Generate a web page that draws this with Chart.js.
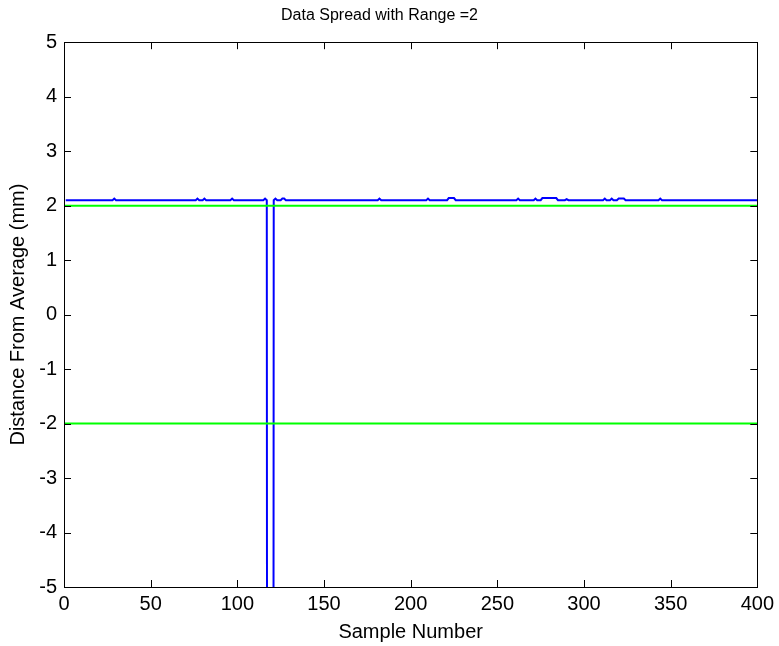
<!DOCTYPE html>
<html>
<head>
<meta charset="utf-8">
<script src="https://cdn.jsdelivr.net/npm/chart.js@4/dist/chart.umd.min.js"></script>
<style>
  html, body { margin: 0; padding: 0; background: #ffffff; }
  #wrap { width: 779px; height: 646px; }
</style>
</head>
<body>
<div id="wrap"><canvas id="spread" width="779" height="646"></canvas></div>
<script>
// sample numbers where the measured value changes (flat in between)
const sampleNumber = [1, 28, 29, 30, 76, 77, 78, 80, 81, 82, 96, 97, 98,
  115, 116, 117, 118, 119, 120, 121, 122, 123, 125, 126, 127, 128,
  181, 182, 183, 209, 210, 211, 221, 222, 225, 226, 261, 262, 263,
  271, 272, 273, 275, 276, 284, 285, 289, 290, 291, 311, 312, 313,
  315, 316, 317, 319, 320, 323, 324, 343, 344, 345, 400];
const distance = [2.1, 2.1, 2.13, 2.1, 2.1, 2.13, 2.1, 2.1, 2.13, 2.1, 2.1, 2.13, 2.1,
  2.1, 2.13, 2.1, -60, -60, -60, 2.1, 2.13, 2.1, 2.1, 2.13, 2.13, 2.1,
  2.1, 2.13, 2.1, 2.1, 2.13, 2.1, 2.1, 2.14, 2.14, 2.1, 2.1, 2.13, 2.1,
  2.1, 2.13, 2.1, 2.1, 2.14, 2.14, 2.1, 2.1, 2.12, 2.1, 2.1, 2.13, 2.1,
  2.1, 2.13, 2.1, 2.1, 2.13, 2.13, 2.1, 2.1, 2.13, 2.1, 2.1];

// range limits (+/- 2 mm)
const limitX = [0, 400];
const upperLimit = [2, 2];
const lowerLimit = [-2, -2];

const xTicks = [0, 50, 100, 150, 200, 250, 300, 350, 400];
const yTicks = [-5, -4, -3, -2, -1, 0, 1, 2, 3, 4, 5];

const FONT = { family: "'Liberation Sans', Arial, sans-serif", size: 20 };

function pairs(xs, ys) {
  return xs.map(function (x, i) { return { x: x, y: ys[i] }; });
}

// box around the axes plus inward tick marks on all four sides
const boxAxes = {
  id: "boxAxes",
  afterDraw: function (chart) {
    const ctx = chart.ctx;
    const a = chart.chartArea;
    const xs = chart.scales.x, ys = chart.scales.y;
    const tl = 7;
    ctx.save();
    ctx.strokeStyle = "#000000";
    ctx.lineWidth = 1;
    ctx.beginPath();
    xTicks.forEach(function (v) {
      const px = Math.round(xs.getPixelForValue(v)) + 0.5;
      ctx.moveTo(px, a.bottom); ctx.lineTo(px, a.bottom - tl);
      ctx.moveTo(px, a.top); ctx.lineTo(px, a.top + tl);
    });
    yTicks.forEach(function (v) {
      const py = Math.round(ys.getPixelForValue(v)) + 0.5;
      ctx.moveTo(a.left, py); ctx.lineTo(a.left + tl, py);
      ctx.moveTo(a.right, py); ctx.lineTo(a.right - tl, py);
    });
    ctx.stroke();
    ctx.strokeRect(Math.round(a.left) + 0.5, Math.round(a.top) + 0.5,
      Math.round(a.right - a.left), Math.round(a.bottom - a.top));
    ctx.restore();
  }
};

new Chart(document.getElementById("spread").getContext("2d"), {
  type: "line",
  data: {
    datasets: [
      {
        label: "upper",
        data: pairs(limitX, upperLimit),
        borderColor: "#00ff00",
        borderWidth: 2,
        pointRadius: 0,
        order: 0
      },
      {
        label: "lower",
        data: pairs(limitX, lowerLimit),
        borderColor: "#00ff00",
        borderWidth: 2,
        pointRadius: 0,
        order: 0
      },
      {
        label: "distance",
        data: pairs(sampleNumber, distance),
        borderColor: "#0000ff",
        borderWidth: 2,
        pointRadius: 0,
        tension: 0,
        order: 1
      }
    ]
  },
  options: {
    responsive: false,
    animation: false,
    layout: { padding: { left: 0, right: 20, top: 0, bottom: 0 } },
    plugins: {
      legend: { display: false },
      tooltip: { enabled: false },
      title: {
        display: true,
        text: "Data Spread with Range =2",
        color: "#000000",
        font: { family: FONT.family, size: 16, weight: "normal" },
        padding: { top: 6, bottom: 17 }
      }
    },
    scales: {
      x: {
        type: "linear",
        min: 0,
        max: 400,
        afterFit: function (s) { s.height = 59; },
        grid: { display: false, drawTicks: false },
        border: { display: false },
        ticks: {
          stepSize: 50,
          padding: 5,
          color: "#000000",
          font: FONT,
          maxRotation: 0
        },
        title: {
          display: true,
          text: "Sample Number",
          color: "#000000",
          font: FONT,
          padding: { top: 0, bottom: 2 }
        }
      },
      y: {
        type: "linear",
        min: -5,
        max: 5,
        afterFit: function (s) { s.width = 64; },
        grid: { display: false, drawTicks: false },
        border: { display: false },
        ticks: {
          stepSize: 1,
          padding: 7,
          color: "#000000",
          font: FONT
        },
        title: {
          display: true,
          text: "Distance From Average (mm)",
          color: "#000000",
          font: FONT,
          padding: { top: 6, bottom: 0 }
        }
      }
    }
  },
  plugins: [boxAxes]
});
</script>
</body>
</html>
